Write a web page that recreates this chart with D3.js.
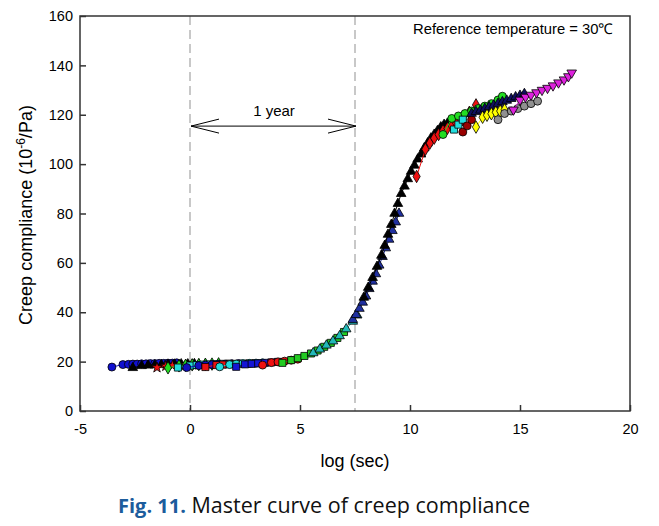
<!DOCTYPE html>
<html><head><meta charset="utf-8">
<script src="https://cdn.jsdelivr.net/npm/d3@7"></script>
<style>body{margin:0;background:#fff}svg{display:block}</style>
</head><body>
<svg id="c" width="659" height="526"></svg>
<script>
// ---- data (log time [s], creep compliance [1e-6/Pa]) ----
const xTicks = [-5, 0, 5, 10, 15, 20];
const yTicks = [0, 20, 40, 60, 80, 100, 120, 140, 160];
const oneYearLog = 7.5;

const s01x = [-3.55,-3.05,-2.8,-2.6,-2.4,-2.2,-2.0,-1.8,-1.6,-1.4,-1.2,-1.0,-0.8,-0.6];
const s01y = [17.8,18.8,18.9,19.0,19.0,19.1,19.1,19.2,19.2,19.3,19.3,19.4,19.4,19.5];
const s02x = [-2.6,-2.2,-1.9,-1.6,-1.3,-1.0,-0.7,-0.4,-0.1,0.2];
const s02y = [17.5,18.3,18.5,18.6,18.7,18.8,18.9,19.0,19.0,19.1];
const s03x = [-1.5,-1.1,-0.8,-0.5,-0.2,0.1,0.4,0.7];
const s03y = [17.6,18.2,18.4,18.6,18.7,18.8,18.9,19.0];
const s04x = [-1.0,-0.5,-0.2,0.1,0.4,0.7,1.0,1.3];
const s04y = [17.5,18.3,18.5,18.7,18.8,18.9,19.0,19.1];
const s05x = [-0.55,0.0,0.3,0.6,0.9,1.2,1.5,1.8];
const s05y = [17.6,18.4,18.6,18.8,18.9,19.0,19.1,19.2];
const s06x = [-0.15,0.4,0.7,1.0,1.3,1.6,1.9,2.2];
const s06y = [17.6,18.4,18.6,18.8,18.9,19.0,19.1,19.2];
const s07x = [0.7,1.2,1.5,1.8,2.1,2.4,2.7,3.0];
const s07y = [17.8,18.6,18.8,19.0,19.1,19.2,19.3,19.4];
const s08x = [1.35,1.8,2.1,2.4,2.7,3.0,3.3];
const s08y = [17.9,18.8,19.0,19.2,19.3,19.4,19.5];
const s09x = [2.1,2.5,2.8,3.1,3.4,3.7,4.0];
const s09y = [17.9,18.9,19.1,19.3,19.5,19.7,19.9];
const s10x = [3.3,3.7,4.0,4.3,4.6,4.9];
const s10y = [18.6,19.6,19.9,20.2,20.6,21.0];
const s11x = [4.2,4.6,4.9,5.2,5.5,5.8,6.1,6.4,6.7,7.0];
const s11y = [19.5,20.6,21.4,22.3,23.3,24.5,26.0,27.6,29.6,32.0];
const s12x = [5.6,5.9,6.2,6.5,6.8,7.1,7.4,7.6];
const s12y = [23.5,25.0,26.6,28.3,30.4,33.2,36.3,38.8];
const s13x = [7.4,7.55,7.7,7.85,8.0,8.15,8.3,8.45,8.6,8.75,8.9,9.05,9.2,9.35,9.5];
const s13y = [37.0,39.0,41.5,44.0,46.5,49.5,52.5,55.5,59.0,62.5,66.0,69.5,73.0,76.5,80.0];
const s14x = [7.9,8.1,8.3,8.5,8.7,8.85,9.0,9.15,9.3,9.45,9.6,9.75,9.9,10.05,10.2,10.35,10.5,10.65,10.8,10.95,11.1,11.25,11.4,11.55,11.7];
const s14y = [46.0,50.0,54.0,58.5,63.0,67.0,71.5,75.5,80.0,84.0,88.0,91.0,94.0,97.0,99.5,102.0,104.0,106.5,108.5,110.5,112.0,113.5,115.0,116.0,116.5];
const s15x = [10.3,10.7,10.9,11.1,11.3,11.5,11.7,11.9,12.1,12.4,12.7,13.0];
const s15y = [95.0,106.0,108.5,110.5,112.0,113.5,114.5,115.5,116.5,118.0,121.0,124.0];
const s16x = [11.5,11.9,12.2,12.5,12.8,13.1,13.4,13.7,14.0,14.2];
const s16y = [112.0,118.5,119.5,120.5,121.5,122.5,123.5,124.5,126.0,127.5];
const s17x = [12.0,12.2,12.4];
const s17y = [114.0,116.0,118.0];
const s18x = [12.4,12.6,12.8];
const s18y = [113.0,115.5,118.0];
const s19x = [12.8,13.0,13.2,13.4,13.6,13.8,14.0,14.2,14.4,14.6,14.8,15.0,15.2];
const s19y = [120.5,121.2,121.8,122.5,123.2,123.8,124.5,125.2,125.8,126.5,127.2,127.8,128.5];
const s20x = [13.0,13.3,13.5,13.7,13.9,14.1,14.3];
const s20y = [115.0,119.0,119.8,120.4,121.0,121.5,122.0];
const s21x = [14.0,14.3,14.6,14.9,15.2,15.5,15.8];
const s21y = [118.0,120.5,121.5,122.5,123.5,124.5,125.5];
const s22x = [14.7,15.0,15.25,15.5,15.75,16.0,16.25,16.5,16.75,17.0,17.2,17.35];
const s22y = [122.0,126.0,127.2,128.0,129.0,130.0,130.8,131.8,133.0,134.2,135.5,137.0];

const seriesX = [s01x,s02x,s03x,s04x,s05x,s06x,s07x,s08x,s09x,s10x,s11x,s12x,s13x,s14x,s15x,s16x,s17x,s18x,s19x,s20x,s21x,s22x];
const seriesY = [s01y,s02y,s03y,s04y,s05y,s06y,s07y,s08y,s09y,s10y,s11y,s12y,s13y,s14y,s15y,s16y,s17y,s18y,s19y,s20y,s21y,s22y];

// ---- styles ----
const seriesColor = ["#1010d0","#000000","#ee1111","#22dd22","#22dddd","#1010c0","#ee1111","#22dddd","#1515d5","#ee1111","#22cc22","#22b8b8","#2030a0","#000000","#ee1111","#22dd22","#22dddd","#990000","#101060","#ffff00","#909090","#dd22dd"];
const seriesShape = ["circle","triangle","star","diamond","square","circle","square","circle","square","circle","square","triangle","triangle","triangle","diamond","circle","square","circle","triangle","diamond","circle","triangleDown"];

const x = d3.scaleLinear().domain([-5, 20]).range([80, 630]);
const y = d3.scaleLinear().domain([0, 160]).range([411, 16]);
const svg = d3.select("#c");
const font = "'Liberation Sans', Arial, sans-serif";

// dashed vertical reference lines
[0, oneYearLog].forEach(v => {
  svg.append("line").attr("x1", x(v)).attr("x2", x(v)).attr("y1", y(160)).attr("y2", y(0))
    .attr("stroke", "#c8c8c8").attr("stroke-width", 2).attr("stroke-dasharray", "9,5");
});

// series
const symType = {circle: d3.symbolCircle, triangle: d3.symbolTriangle, star: d3.symbolStar,
  diamond: d3.symbolDiamond, square: d3.symbolSquare, triangleDown: d3.symbolTriangle};
const line = d3.line().x(d => x(d[0])).y(d => y(d[1]));
seriesX.forEach((xs, i) => {
  const pts = xs.map((v, j) => [v, seriesY[i][j]]);
  const g = svg.append("g");
  g.append("path").attr("d", line(pts)).attr("fill", "none")
    .attr("stroke", seriesColor[i]).attr("stroke-width", 1);
  const shape = seriesShape[i];
  const size = shape === "circle" ? 50 : shape === "square" ? 50 : shape === "diamond" ? 45 : shape === "star" ? 35 : 40;
  const sym = d3.symbol().type(symType[shape]).size(size);
  g.selectAll("path.m").data(pts).join("path").attr("class", "m")
    .attr("d", sym)
    .attr("transform", d => `translate(${x(d[0])},${y(d[1])})` + (shape === "triangleDown" ? " rotate(180)" : ""))
    .attr("fill", seriesColor[i]).attr("stroke", "#000").attr("stroke-width", 0.8);
});

// frame
svg.append("rect").attr("x", x(-5)).attr("y", y(160)).attr("width", x(20) - x(-5)).attr("height", y(0) - y(160))
  .attr("fill", "none").attr("stroke", "#333").attr("stroke-width", 1.5);

// axes
const xAxis = d3.axisBottom(x).tickValues(xTicks).tickSize(-6).tickPadding(13).tickFormat(d => String(d));
const gx = svg.append("g").attr("transform", `translate(0,${y(0)})`).call(xAxis);
gx.select(".domain").remove();
gx.selectAll("line").attr("stroke", "#333").attr("stroke-width", 1.5);
gx.selectAll("text").attr("font-family", font).attr("font-size", 14.5).attr("fill", "#000");

const yAxis = d3.axisLeft(y).tickValues(yTicks).tickSize(-6).tickPadding(7).tickFormat(d => String(d));
const gy = svg.append("g").attr("transform", `translate(${x(-5)},0)`).call(yAxis);
gy.select(".domain").remove();
gy.selectAll("line").attr("stroke", "#333").attr("stroke-width", 1.5);
gy.selectAll("text").attr("font-family", font).attr("font-size", 14.5).attr("fill", "#000");

// axis titles
svg.append("text").attr("x", 355).attr("y", 467).attr("text-anchor", "middle")
  .attr("font-family", font).attr("font-size", 18).text("log (sec)");
const yt = svg.append("text").attr("transform", "translate(32,215) rotate(-90)").attr("text-anchor", "middle")
  .attr("font-family", font).attr("font-size", 18);
yt.append("tspan").text("Creep compliance (10");
yt.append("tspan").attr("dy", -7).attr("font-size", 12).text("-6");
yt.append("tspan").attr("dy", 7).text("/Pa)");

// reference temperature
svg.append("text").attr("x", 413).attr("y", 34).attr("font-family", font).attr("font-size", 14.8).text("Reference temperature = 30℃");

// 1 year arrow
const ay = y(115.4);
const xa = x(0) + 1, xb = x(oneYearLog) + 1;
svg.append("line").attr("x1", xa).attr("x2", xb).attr("y1", ay).attr("y2", ay).attr("stroke", "#000").attr("stroke-width", 1);
svg.append("path").attr("d", `M${xa + 28},${ay - 7}L${xa},${ay}L${xa + 28},${ay + 7}`).attr("fill", "none").attr("stroke", "#000");
svg.append("path").attr("d", `M${xb - 28},${ay - 7}L${xb},${ay}L${xb - 28},${ay + 7}`).attr("fill", "none").attr("stroke", "#000");
svg.append("text").attr("x", 274).attr("y", 116).attr("text-anchor", "middle").attr("font-family", font).attr("font-size", 15).text("1 year");

// caption
const cap = svg.append("text").attr("x", 118).attr("y", 513).attr("font-family", "'Open Sans', 'Noto Sans', sans-serif");
cap.append("tspan").attr("fill", "#1c5c9c").attr("font-weight", "bold").attr("font-size", 20).text("Fig. 11.");
cap.append("tspan").attr("fill", "#111").attr("font-size", 21.5).text(" Master curve of creep compliance");
</script>
</body></html>
